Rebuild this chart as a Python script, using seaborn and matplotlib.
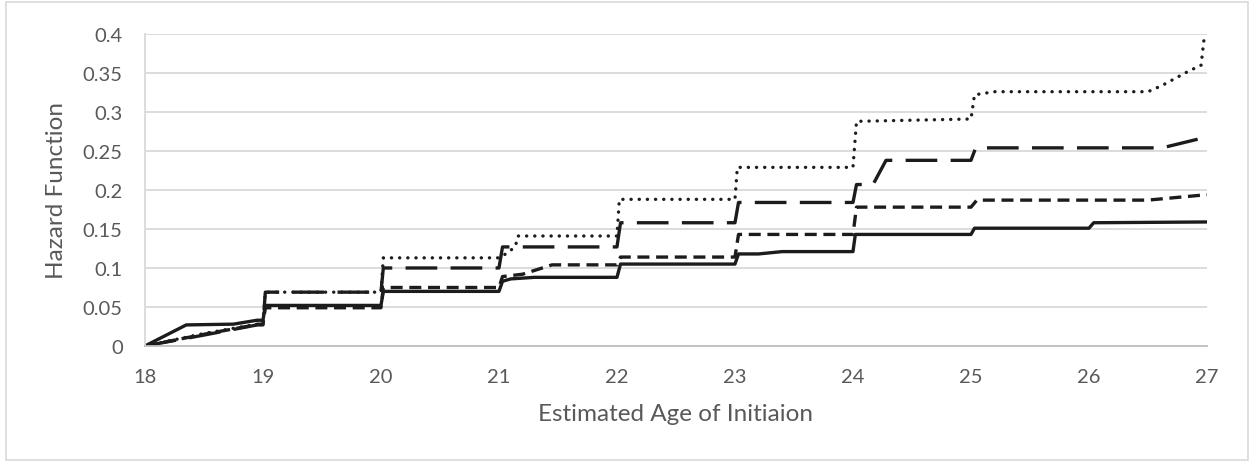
import numpy as np
import pandas as pd
import matplotlib
matplotlib.use("Agg")
import matplotlib.pyplot as plt
from matplotlib.patches import Rectangle
import seaborn as sns

# four hazard curves (step-like, Excel scatter with lines)
solid_x = [18, 18.35, 18.75, 18.95, 19.0, 19.02, 20.0, 20.02, 21.0, 21.03, 21.1, 21.3,
           22.0, 22.03, 23.0, 23.03, 23.2, 23.4, 24.0, 24.02, 25.0, 25.03, 26.0, 26.04, 27.0]
solid_y = [0, 0.027, 0.028, 0.033, 0.033, 0.052, 0.052, 0.07, 0.07, 0.083, 0.086, 0.088,
           0.088, 0.105, 0.105, 0.118, 0.118, 0.121, 0.121, 0.143, 0.143, 0.151, 0.151, 0.158, 0.159]

short_x = [18, 18.5, 18.97, 19.0, 19.02, 20.0, 20.02, 21.0, 21.03, 21.2, 21.45, 22.0, 22.03,
           23.0, 23.03, 24.0, 24.03, 25.0, 25.05, 26.5, 27.0]
short_y = [0, 0.015, 0.028, 0.028, 0.049, 0.049, 0.075, 0.075, 0.089, 0.092, 0.104, 0.104, 0.114,
           0.114, 0.143, 0.143, 0.178, 0.178, 0.187, 0.187, 0.194]

long_x = [18, 18.5, 18.95, 19.0, 19.02, 20.0, 20.02, 21.0, 21.03, 22.0, 22.03, 23.0, 23.03,
          24.0, 24.03, 24.17, 24.28, 25.0, 25.04, 26.62, 27.0]
long_y = [0, 0.014, 0.027, 0.027, 0.069, 0.069, 0.1, 0.1, 0.127, 0.127, 0.158, 0.158, 0.184,
          0.184, 0.207, 0.207, 0.238, 0.238, 0.254, 0.254, 0.268]

dot_x = [18, 18.5, 18.95, 19.0, 19.02, 20.0, 20.02, 21.0, 21.08, 21.14, 21.16, 22.0, 22.02,
         23.0, 23.02, 24.0, 24.03, 25.0, 25.03, 25.2, 26.5, 26.62, 26.73, 26.84, 26.95, 26.98]
dot_y = [0, 0.016, 0.028, 0.028, 0.069, 0.069, 0.113, 0.113, 0.12, 0.128, 0.141, 0.141, 0.188,
         0.188, 0.229, 0.229, 0.288, 0.291, 0.322, 0.326, 0.326, 0.334, 0.343, 0.352, 0.36, 0.4]

x_ticks = [18, 19, 20, 21, 22, 23, 24, 25, 26, 27]
y_ticks = [0, 0.05, 0.1, 0.15, 0.2, 0.25, 0.3, 0.35, 0.4]
y_labels = ["0", "0.05", "0.1", "0.15", "0.2", "0.25", "0.3", "0.35", "0.4"]

sns.set_style("white")
plt.rcParams["font.family"] = ["Lato", "DejaVu Sans"]

txt = "#595959"
ink = "#1c1c1c"

fig = plt.figure(figsize=(12.54, 4.64), dpi=100)
ax = fig.add_axes([0.1156, 0.2522, 0.8469, 0.6724])

series = [
    (solid_x, solid_y, "-", "butt"),
    (short_x, short_y, (0, (3.6, 2.0)), "butt"),
    (long_x, long_y, (0, (9.5, 4.0)), "butt"),
    (dot_x, dot_y, (0, (0.05, 2.4)), "round"),
]
for xs, ys, ls, cap in series:
    df = pd.DataFrame({"age": xs, "hazard": ys})
    sns.lineplot(data=df, x="age", y="hazard", ax=ax, sort=False, estimator=None,
                 color=ink, linewidth=2.4, linestyle=ls)
    ax.lines[-1].set_dash_capstyle(cap)
    ax.lines[-1].set_solid_joinstyle("round")

ax.set_xlim(18, 27)
ax.set_ylim(0, 0.4)
ax.set_xticks(x_ticks)
ax.set_xticklabels([str(v) for v in x_ticks])
ax.set_yticks(y_ticks)
ax.set_yticklabels(y_labels)
ax.tick_params(axis="both", length=0, labelsize=14.5, colors=txt)
ax.tick_params(axis="y", pad=16)
ax.tick_params(axis="x", pad=15.5)
ax.yaxis.grid(True, color="#d9d9d9", linewidth=1.3)
ax.xaxis.grid(False)
ax.set_axisbelow(True)
for s in ["top", "right"]:
    ax.spines[s].set_visible(False)
ax.spines["left"].set_color("#d9d9d9")
ax.spines["left"].set_linewidth(1.3)
ax.spines["bottom"].set_color("#bfbfbf")
ax.spines["bottom"].set_linewidth(1.3)

ax.set_xlabel("Estimated Age of Initiaion", fontsize=17.5, color=txt, labelpad=13.5)
ax.set_ylabel("Hazard Function", fontsize=17.5, color=txt, labelpad=11)

fig.patches.append(Rectangle((0.005, 0.006), 0.99, 0.988, transform=fig.transFigure,
                             fill=False, edgecolor="#d9d9d9", linewidth=1.2))

fig.savefig("out.png", dpi=100)
